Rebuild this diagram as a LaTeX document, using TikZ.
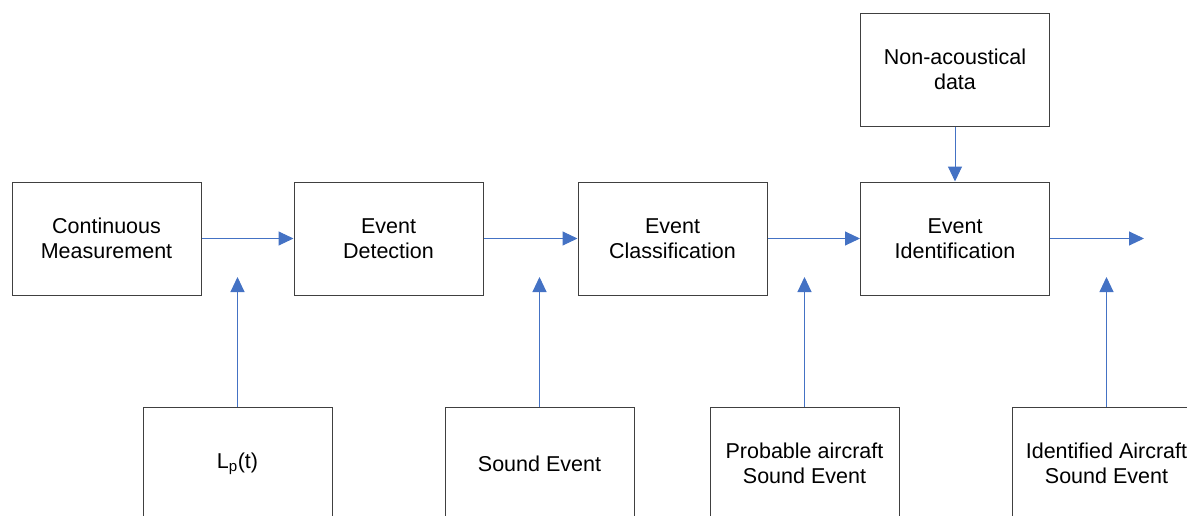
\documentclass[tikz,border=0pt]{standalone}
\usepackage{fontspec}
\setmainfont{Liberation Sans}
\usetikzlibrary{arrows.meta}
\definecolor{arrowblue}{HTML}{4472C4}
\definecolor{boxgray}{HTML}{404040}
\tikzset{
  blk/.style={draw=boxgray, line width=1pt, rectangle, minimum width=189pt, minimum height=113pt,
    align=center, inner sep=0pt, font=\fontsize{21.5pt}{25.5pt}\selectfont},
  arr/.style={draw=arrowblue, line width=1pt, -{Triangle[length=15pt,width=14pt]}}
}
\begin{document}
\begin{tikzpicture}[x=1pt,y=1pt]
\useasboundingbox (0,0) rectangle (1187,-515);
\clip (0,0) rectangle (1187,-515);
% main row
\node[blk] (cm) at (106.5,-238.5) {Continuous\\Measurement};
\node[blk] (ed) at (388.5,-238.5) {Event\\Detection};
\node[blk] (ec) at (672.5,-238.5) {Event\\Classification};
\node[blk] (ei) at (955,-238.5) {Event\\Identification};
\node[blk] (na) at (955,-69.5) {Non-acoustical\\data};
% bottom row
\node[blk] (lp) at (237.5,-463.5) {L\textsubscript{p}(t)};
\node[blk] (se) at (539.5,-463.5) {Sound Event};
\node[blk] (pa) at (804.5,-463.5) {Probable aircraft\\Sound Event};
\node[blk] (ia) at (1106.5,-463.5) {Identified Aircraft\\Sound Event};
% free ends
\coordinate (lpT) at (237.5,-277);
\coordinate (seT) at (539.5,-277);
\coordinate (paT) at (804.5,-277);
\coordinate (iaT) at (1106.5,-277);
\coordinate (outE) at (1144,-238.5);
% connectors
\draw[arr] (cm.east) -- (ed.west);
\draw[arr] (ed.east) -- (ec.west);
\draw[arr] (ec.east) -- (ei.west);
\draw[arr] (ei.east) -- (outE);
\draw[arr] (na.south) -- (ei.north);
\draw[arr] (lp.north) -- (lpT);
\draw[arr] (se.north) -- (seT);
\draw[arr] (pa.north) -- (paT);
\draw[arr] (ia.north) -- (iaT);
\end{tikzpicture}
\end{document}
